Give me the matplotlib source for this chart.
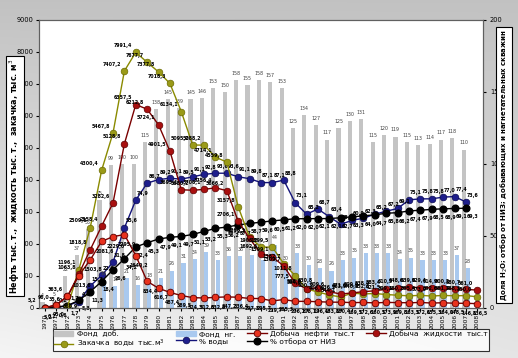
import numpy as np
import matplotlib.pyplot as plt
from matplotlib.patches import Patch

nan = np.nan

years = list(range(1970, 2009))

# фонд скважин (правая ось)
fond_dob = [4, 5, 22, 37, 55, 75, 99, 100, 100, 115,
            138, 145, 139, 145, 146, 153, 150, 158, 155, 158,
            157, 153, 125, 134, 127, 117, 125, 130, 131, 115,
            120, 119, 115, 113, 114, 117, 118, 110, nan]
fond_ng = [nan, nan, nan, nan, nan, 19, 15, 21, 16, 18,
           21, 26, 31, 34, 39, 33, 36, 36, 37, 33,
           44, 30, 38, 30, 28, 26, 33, 35, 38, 38,
           38, 34, 35, 33, 33, 33, 37, 28, nan]

# левая ось, тыс. т / тыс. м3
zakachka = [nan, nan, 35.6, 1196.1, 2509.6, 4300.4, 5467.8, 7407.2, 7991.4, 7677.7,
            7377.8, 7018.3, 6134.1, 5095.2, 5088.2, 4714.1, 4559.8, 3157.8, 2206.1, 1906.2,
            1899.5, 1382.7, 1011.8, 594.6, 500.3, 406.6, 344.1, 463.9, 440.2, 452.6,
            421.5, 399.1, 380.2, 395.4, 373.9, 392.6, 381.7, 388.3, 350.0]
liquid = [5.2, 96.0, 363.6, 1063.8, 1818.8, 2558.4, 3282.6, 5128.8, 6357.5, 6212.8,
          5724.1, 4901.5, 3695.1, 3680.2, 3706.1, 3756.4, 3666.2, 2706.1, 2172.7, 1692.6,
          1599.1, 1309.7, 777.5, 598.6, 630.8, 509.6, 436.2, 471.6, 509.6, 538.4,
          583.4, 610.5, 648.6, 639.9, 629.4, 614.9, 600.2, 580.7, 561.0]
oil = [5.2, 95.0, 360.9, 1013.6, 1503.8, 2081.6, 2229.0, 2295.9, 1640.2, 834.4,
       616.7, 487.4, 389.5, 324.3, 312.6, 332.8, 347.2, 336.4, 297.3, 295.7,
       219.7, 265.3, 206.1, 208.1, 196.4, 183.8, 180.4, 169.5, 172.6, 160.5,
       173.9, 169.8, 163.5, 172.6, 155.3, 164.0, 148.5, 146.8, 136.5]

# правая ось, %
water = [nan, 0.2, 1.7, 4.5, 15.3, 22.6, 31.8, 55.6, 74.9, 86.7,
         89.2, 90.1, 89.5, 91.1, 92.8, 93.6, 93.6, 91.1, 89.8, 87.1,
         87.1, 88.8, 73.1, 65.2, 68.7, 63.4, 58.1, 60.9, 62.3, 65.2,
         67.2, 69.1, 75.1, 75.8, 75.8, 77.0, 77.4, 73.6, nan]
otbor = [0.2, 0.6, 1.7, 5.3, 11.3, 18.4, 26.6, 34.2, 42.4, 45.3,
         47.9, 49.1, 49.7, 51.1, 53.2, 55.3, 56.2, 57.7, 58.7, 59.6,
         60.5, 61.2, 62.0, 62.0, 62.1, 62.1, 62.7, 63.3, 64.0, 64.7,
         65.8, 66.2, 67.4, 67.9, 68.5, 68.9, 69.1, 69.3, nan]


def fmt(v):
    return f'{v:.1f}'.replace('.', ',')


def label_points(axis, xs, ys, dx, dy, color='black'):
    for xi, yi in zip(xs, ys):
        if np.isnan(yi):
            continue
        axis.annotate(fmt(yi), (xi, yi), xytext=(dx, dy), textcoords='offset points',
                      fontsize=3.4, fontweight='bold', color=color, ha='center', va='center')


fig = plt.figure(figsize=(5.18, 3.58), dpi=100)

# серый градиентный фон
bg = fig.add_axes([0, 0, 1, 1], zorder=-5)
yy, xx = np.mgrid[0:1:200j, 0:1:200j]
shade = 0.76 + 0.2 * yy - 0.06 * xx * yy
img = np.dstack([shade, shade, shade])
bg.imshow(np.clip(img, 0, 1), extent=[0, 1, 0, 1], aspect='auto', origin='upper')
bg.set_axis_off()

ax = fig.add_axes([39 / 518, 50 / 358, 444 / 518, 288 / 358])
ax2 = ax.twinx()
ax.set_zorder(2)
ax2.set_zorder(1)
ax.patch.set_visible(False)
ax2.patch.set_visible(True)
ax2.patch.set_facecolor('white')

x = np.arange(len(years))

ax2.bar(x - 0.19, fond_dob, width=0.36, color='#c4c4c4')
ax2.bar(x + 0.19, fond_ng, width=0.36, color='#a9c9ef')
for xi, v in zip(x, fond_dob):
    if not np.isnan(v):
        ax2.annotate(f'{int(v)}', (xi - 0.19, v), xytext=(0, 3), textcoords='offset points',
                     fontsize=3.4, color='#404040', ha='center', va='bottom')
for xi, v in zip(x, fond_ng):
    if not np.isnan(v):
        ax2.annotate(f'{int(v)}', (xi + 0.19, v), xytext=(0, 3), textcoords='offset points',
                     fontsize=3.4, color='#404040', ha='center', va='bottom')

l_water, = ax2.plot(x, water, color='#14147a', lw=1.0, marker='o', ms=4.8,
                    mfc='#1e1e8c', mec='#0a0a50', mew=0.5)
l_otbor, = ax2.plot(x, otbor, color='black', lw=1.0, marker='o', ms=4.8,
                    mfc='black', mec='black')
label_points(ax2, x, water, 5, 5)
label_points(ax2, x, otbor, 5, -6)

l_zak, = ax.plot(x, zakachka, color='#8a8a00', lw=1.0, marker='o', ms=4.8,
                 mfc='#9a9a18', mec='#6b6b00', mew=0.5)
l_liq, = ax.plot(x, liquid, color='#7a0000', lw=1.0, marker='o', ms=4.8,
                 mfc='#a80f0f', mec='#5c0000', mew=0.5)
l_oil, = ax.plot(x, oil, color='#7a0000', lw=1.0, marker='o', ms=4.8,
                 mfc='#e8321e', mec='#5c0000', mew=0.6)
label_points(ax, x, zakachka, -9, 5)
label_points(ax, x, liquid, -9, 5)
label_points(ax, x, oil, 2, -7)

ax.set_xlim(-0.5, len(years) - 0.5)
ax.set_ylim(0, 9000)
ax2.set_ylim(0, 200)
ax.set_yticks(range(0, 9001, 1000))
ax2.set_yticks([0, 50, 100, 150, 200])
ax.set_xticks(x)
ax.set_xticklabels(years, rotation=90, fontsize=4.3)
ax.tick_params(axis='y', labelsize=4.8, length=2, pad=2)
ax.tick_params(axis='x', length=2, pad=2)
ax2.tick_params(axis='y', labelsize=4.8, length=2, pad=3)
for a in (ax, ax2):
    for s in a.spines.values():
        s.set_color('#606060')
        s.set_linewidth(0.8)

fig.text(15 / 518, 1 - 176 / 358, 'Нефть тыс. т.,  жидкость тыс. т.,  закачка, тыс. м$^3$',
         rotation=90, ha='center', va='center', fontsize=5.8, fontweight='bold',
         bbox=dict(boxstyle='square,pad=0.25', facecolor='white', edgecolor='black', lw=0.8))
fig.text(504 / 518, 1 - 165 / 358,
         'Доля H$_2$O; отбор от НИЗ; добывающих и нагнетательных скважин',
         rotation=90, ha='center', va='center', fontsize=5.0, fontweight='bold',
         bbox=dict(boxstyle='square,pad=0.35', facecolor='white', edgecolor='black', lw=0.8))

handles = [Patch(color='#c4c4c4'), l_zak, Patch(color='#a9c9ef'), l_water,
           l_oil, l_otbor, l_liq]
labels = ['Фонд  доб.', 'Закачка  воды  тыс.м$^3$', 'Фонд  нг.', '% воды',
          'Добыча  нефти  тыс.т', '% отбора от НИЗ', 'Добыча  жидкости  тыс.т']
leg = fig.legend(handles, labels, ncol=4, loc='center', bbox_to_anchor=(271 / 518, 1 - 340 / 358),
                 fontsize=5.3, frameon=True, fancybox=False, edgecolor='black',
                 borderpad=0.2, handlelength=2.6, columnspacing=1.6, labelspacing=0.1,
                 handletextpad=0.5, borderaxespad=0)
leg.get_frame().set_linewidth(0.8)

fig.savefig('out.png', dpi=100)
